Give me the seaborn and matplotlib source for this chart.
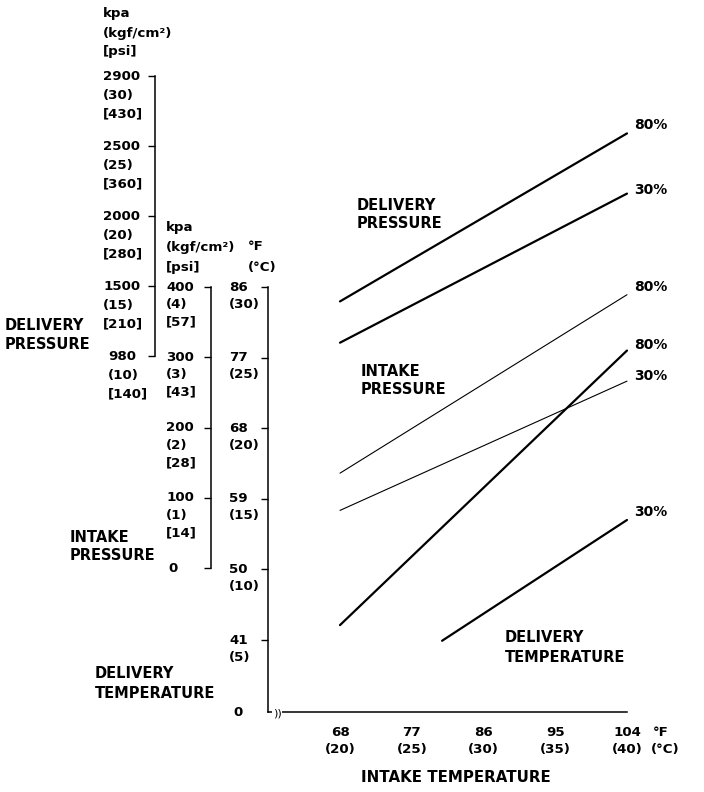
import matplotlib
matplotlib.use("Agg")
import matplotlib.pyplot as plt
import matplotlib.transforms as mtransforms
import seaborn as sns

# intake temperature (degF) at the two ends of each curve
intake_temp_f = [68, 104]
# delivery pressure, kgf/cm2
dp_80 = [13.9, 25.9]
dp_30 = [10.95, 21.6]
# intake pressure, kpa
ip_80 = [135, 389]
ip_30 = [82, 266]
# delivery temperature, degF
dt_80 = [42.9, 77.9]
dt_30_x = [80.8, 104]
dt_30 = [40.9, 56.3]

x_ticks = [68, 77, 86, 95, 104]
x_ticks_c = [20, 25, 30, 35, 40]
temp_ticks = [86, 77, 68, 59, 50, 41]
temp_ticks_c = [30, 25, 20, 15, 10, 5]
ip_ticks = [400, 300, 200, 100, 0]
ip_ticks_kgf = [4, 3, 2, 1]
ip_ticks_psi = [57, 43, 28, 14]
dp_ticks = [30, 25, 20, 15, 10]
dp_ticks_kpa = [2900, 2500, 2000, 1500, 980]
dp_ticks_psi = [430, 360, 280, 210, 140]

sns.set_style("white")
plt.rcParams['font.family'] = ['DejaVu Sans']
plt.rcParams['font.weight'] = 'bold'
plt.rcParams['text.color'] = 'black'

W, H = 704, 792
AX_L, AX_R, AX_B, AX_T = 268, 640, 712, 40


def lims(v1, p1, v2, p2, lo, hi):
    # value range that puts v1 at pixel p1 and v2 at pixel p2
    s = (v2 - v1) / (p2 - p1)
    return v1 + (lo - p1) * s, v1 + (hi - p1) * s


fig = plt.figure(figsize=(W / 100, H / 100), dpi=100)
ax = fig.add_axes([AX_L / W, 1 - AX_B / H, (AX_R - AX_L) / W, (AX_B - AX_T) / H])
ax.set_xlim(*lims(68, 340, 104, 627, AX_L, AX_R))
ax.set_ylim(*lims(86, 287, 41, 640, AX_B, AX_T))
ax.patch.set_alpha(0)

ax_ip = ax.twinx()
ax_ip.set_ylim(*lims(400, 287, 0, 568, AX_B, AX_T))
ax_dp = ax.twinx()
ax_dp.set_ylim(*lims(30, 76, 10, 356, AX_B, AX_T))

for a in (ax, ax_ip, ax_dp):
    for s in a.spines.values():
        s.set_visible(False)
    a.yaxis.tick_left()
    a.tick_params(axis='y', which='both', direction='out', length=5, width=1,
                  color='black', labelleft=False, labelright=False, right=False)

ax.spines['left'].set_visible(True)
ax.spines['left'].set_bounds(ax.get_ylim()[0], 86)
ax.spines['bottom'].set_visible(True)
ax.spines['bottom'].set_bounds(ax.get_xlim()[0], 104)
ax.set_yticks(temp_ticks)
ax.set_xticks(x_ticks)
ax.tick_params(axis='x', direction='out', length=5, width=1, color='black', labelbottom=False)

ax_ip.spines['left'].set_visible(True)
ax_ip.spines['left'].set_position(('axes', (211 - AX_L) / (AX_R - AX_L)))
ax_ip.spines['left'].set_bounds(0, 400)
ax_ip.set_yticks(ip_ticks)

ax_dp.spines['left'].set_visible(True)
ax_dp.spines['left'].set_position(('axes', (155 - AX_L) / (AX_R - AX_L)))
ax_dp.spines['left'].set_bounds(10, 30)
ax_dp.set_yticks(dp_ticks)

for a in (ax, ax_ip, ax_dp):
    for s in a.spines.values():
        s.set_linewidth(1.1)
        s.set_color('black')

# curves
sns.lineplot(x=intake_temp_f, y=dp_80, ax=ax_dp, color='black', linewidth=1.6)
sns.lineplot(x=intake_temp_f, y=dp_30, ax=ax_dp, color='black', linewidth=1.6)
sns.lineplot(x=intake_temp_f, y=ip_80, ax=ax_ip, color='black', linewidth=0.8)
sns.lineplot(x=intake_temp_f, y=ip_30, ax=ax_ip, color='black', linewidth=0.8)
sns.lineplot(x=intake_temp_f, y=dt_80, ax=ax, color='black', linewidth=1.6)
sns.lineplot(x=dt_30_x, y=dt_30, ax=ax, color='black', linewidth=1.6)
for a in (ax, ax_ip, ax_dp):
    a.set_xlabel('')
    a.set_ylabel('')

# percent labels at the right ends
ends = [(ax_dp, dp_80[-1], 8, "80%"), (ax_dp, dp_30[-1], 4, "30%"),
        (ax_ip, ip_80[-1], 8, "80%"), (ax, dt_80[-1], 6, "80%"),
        (ax_ip, ip_30[-1], 5, "30%"), (ax, dt_30[-1], 8, "30%")]
for a, yv, dy, txt in ends:
    a.annotate(txt, (104, yv), xytext=(7, dy), textcoords='offset pixels',
               ha='left', va='center', fontsize=10, fontweight='bold')


def stack(a, xpx, yv, lines, dy, size=9.6):
    base = mtransforms.blended_transform_factory(fig.transFigure, a.transData)
    for i, line in enumerate(lines):
        tr = mtransforms.offset_copy(base, fig=fig, x=0, y=-dy * i, units='dots')
        a.text(xpx / W, yv, line, transform=tr, ha='left', va='center',
               fontsize=size, fontweight='bold', clip_on=False)


# tick labels
for v, kpa, psi in zip(dp_ticks, dp_ticks_kpa, dp_ticks_psi):
    xoff = 108 if kpa < 1000 else 103
    stack(ax_dp, xoff, v, [str(kpa), f"({v})", f"[{psi}]"], 19)
for v, kg, psi in zip(ip_ticks[:-1], ip_ticks_kgf, ip_ticks_psi):
    stack(ax_ip, 166, v, [str(v), f"({kg})", f"[{psi}]"], 17.5)
stack(ax_ip, 168, 0, ["0"], 17.5)
for v, c in zip(temp_ticks, temp_ticks_c):
    stack(ax, 229, v, [str(v), f"({c})"], 17)
stack(ax, 233, ax.get_ylim()[0], ["0"], 17)

xtr = mtransforms.blended_transform_factory(ax.transData, fig.transFigure)
for v, c in zip(x_ticks, x_ticks_c):
    ax.text(v, 1 - 732 / H, str(v), transform=xtr, ha='center', va='center', fontsize=9.6)
    ax.text(v, 1 - 750 / H, f"({c})", transform=xtr, ha='center', va='center', fontsize=9.6)


def ftext(xpx, ypx, s, size=10.5, ha='left'):
    fig.text(xpx / W, 1 - ypx / H, s, ha=ha, va='center', fontsize=size, fontweight='bold')


# unit headers
ftext(103, 13, "kpa", 9.6)
ftext(103, 33, "(kgf/cm²)", 9.6)
ftext(103, 52, "[psi]", 9.6)
ftext(166, 228, "kpa", 9.6)
ftext(166, 247, "(kgf/cm²)", 9.6)
ftext(166, 267, "[psi]", 9.6)
ftext(248, 247, "°F", 9.6)
ftext(248, 267, "(°C)", 9.6)
ftext(653, 732, "°F", 9.6)
ftext(651, 750, "(°C)", 9.6)

# axis names
ftext(5, 325, "DELIVERY")
ftext(5, 345, "PRESSURE")
ftext(70, 537, "INTAKE")
ftext(70, 555, "PRESSURE")
ftext(95, 674, "DELIVERY")
ftext(95, 693, "TEMPERATURE")
ftext(456, 778, "INTAKE TEMPERATURE", 10.8, ha='center')

# curve group names
ftext(357, 206, "DELIVERY")
ftext(357, 224, "PRESSURE")
ftext(361, 371, "INTAKE")
ftext(361, 390, "PRESSURE")
ftext(505, 637, "DELIVERY")
ftext(505, 658, "TEMPERATURE")

# axis break mark near the origin
fig.text(277 / W, 1 - 713 / H, "))", ha='center', va='center', fontsize=8,
         fontweight='normal', bbox=dict(facecolor='white', edgecolor='none', pad=0.5))

fig.savefig("out.png", dpi=100)
